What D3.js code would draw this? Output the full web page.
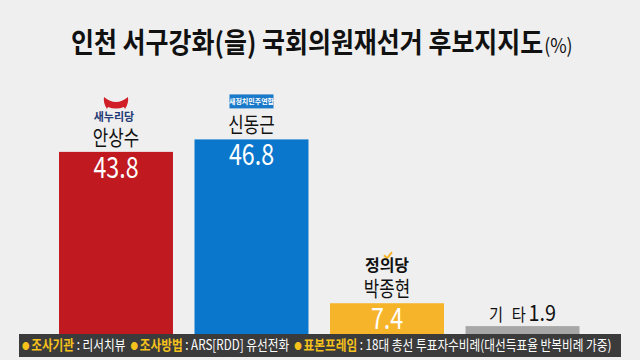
<!DOCTYPE html>
<html>
<head>
<meta charset="utf-8">
<script src="https://cdn.jsdelivr.net/npm/d3@7"></script>
<style>
  html, body { margin: 0; padding: 0; background: #efefef; }
  svg { display: block; }
  text { font-family: "Noto Sans CJK KR", "Noto Sans", sans-serif; }
</style>
</head>
<body>
<svg id="chart" width="640" height="360"></svg>
<script>
'use strict';

const candidates = ['안상수', '신동근', '박종현', '기 타'];
const parties = ['새누리당', '새정치민주연합', '정의당', ''];
const values = [43.8, 46.8, 7.4, 1.9];
const colors = ['#c11920', '#0b77cc', '#f6b42b', '#a7a7a7'];

const footerItems = [
  { label: '조사기관', text: ' : 리서치뷰 ' },
  { label: '조사방법', text: ' : ARS[RDD] 유선전화 ' },
  { label: '표본프레임', text: ' : 18대 총선 투표자수비례(대선득표율 반복비례 가중)' }
];

const svg = d3.select('#chart');
const width = 640;
const height = 360;
const footerTop = 334;
const squeeze = 0.8; // the original lettering is a condensed face

svg.append('rect')
  .attr('width', width)
  .attr('height', height)
  .attr('fill', '#efefef');

// squeeze a text group horizontally so it spans [x0, x0 + w]
function fitWidth(g, x0, w) {
  const box = g.node().getBBox();
  const k = w / box.width;
  g.attr('transform', `translate(${x0},0) scale(${k},1) translate(${-box.x},0)`);
}

// title
const titleG = svg.append('g');
const title = titleG.append('text')
  .attr('x', 0)
  .attr('y', 53)
  .attr('font-size', 28)
  .attr('font-weight', 'bold')
  .attr('fill', '#111');
title.append('tspan').text('인천 서구강화(을) 국회의원재선거 후보지지도');
title.append('tspan').attr('font-size', 20).attr('font-weight', 'normal').attr('dx', 1).text('(%)');
fitWidth(titleG, 71, 502);

const x = d3.scaleBand()
  .domain(candidates)
  .range([59, 579.5])
  .paddingInner(0.159)
  .paddingOuter(0);

const y = d3.scaleLinear()
  .domain([0, 50])
  .range([footerTop, footerTop - 207.9]);

const rows = candidates.map((c, i) => ({ name: c, party: parties[i], value: values[i], color: colors[i] }));
const mid = d => x(d.name) + x.bandwidth() / 2;

svg.selectAll('rect.bar')
  .data(rows)
  .join('rect')
  .attr('class', 'bar')
  .attr('x', d => x(d.name))
  .attr('y', d => y(d.value))
  .attr('width', x.bandwidth())
  .attr('height', d => footerTop + 4 - y(d.value))
  .attr('fill', d => d.color);

// value labels inside the three candidate bars
svg.selectAll('text.val')
  .data(rows.slice(0, 3))
  .join('text')
  .attr('class', 'val')
  .attr('transform', d => `translate(${mid(d)},${y(d.value) + 26}) scale(${squeeze},1)`)
  .attr('text-anchor', 'middle')
  .attr('font-size', 29)
  .attr('fill', '#fff')
  .text(d => d.value.toFixed(1));

// candidate names above bars
svg.selectAll('text.name')
  .data(rows.slice(0, 3))
  .join('text')
  .attr('class', 'name')
  .attr('transform', d => `translate(${mid(d)},${y(d.value) - 7}) scale(${squeeze},1)`)
  .attr('text-anchor', 'middle')
  .attr('font-size', 21)
  .attr('fill', '#111')
  .text(d => d.name);

// "기 타 1.9" label
const etc = rows[3];
const etcText = svg.append('text')
  .attr('transform', `translate(${mid(etc)},${y(etc.value) - 5}) scale(0.9,1)`)
  .attr('text-anchor', 'middle')
  .attr('fill', '#111');
etcText.append('tspan').attr('font-size', 17).attr('letter-spacing', 3).text(etc.name);
etcText.append('tspan').attr('font-size', 22).attr('dx', 0).text(etc.value.toFixed(1));

// party logos (drawn roughly)
function cx(i) { return mid(rows[i]); }

// 새누리당
const l0 = svg.append('g').attr('transform', `translate(${cx(0)},${y(values[0]) - 46})`);
l0.append('path')
  .attr('d', 'M-12,-9 Q-6,-4 0,-4 Q6,-4 12,-9 Q13,-3 9,3 L8,1 Q0,4 -8,1 L-9,3 Q-13,-3 -12,-9 Z')
  .attr('fill', '#d01f26');
l0.append('text')
  .attr('x', -2)
  .attr('y', 15)
  .attr('text-anchor', 'middle')
  .attr('font-size', 11)
  .attr('font-weight', 'bold')
  .attr('fill', '#1f3a75')
  .text(parties[0]);

// 새정치민주연합
const l1 = svg.append('g').attr('transform', `translate(${cx(1)},${y(values[1]) - 38})`);
l1.append('rect')
  .attr('x', -22)
  .attr('y', -7)
  .attr('width', 44)
  .attr('height', 14)
  .attr('fill', '#1a79c9');
l1.append('text')
  .attr('y', 2.5)
  .attr('text-anchor', 'middle')
  .attr('font-size', 7)
  .attr('font-weight', 'bold')
  .attr('fill', '#fff')
  .text(parties[1]);

// 정의당
const l2 = svg.append('g').attr('transform', `translate(${cx(2)},${y(values[2]) - 32})`);
l2.append('path')
  .attr('d', 'M-3,-16 L0,-13 L5,-19')
  .attr('fill', 'none')
  .attr('stroke', '#f6b42b')
  .attr('stroke-width', 2);
l2.append('text')
  .attr('y', 0)
  .attr('text-anchor', 'middle')
  .attr('font-size', 16)
  .attr('font-weight', 'bold')
  .attr('fill', '#111')
  .text(parties[2]);

// footer band
svg.append('rect')
  .attr('x', 19)
  .attr('y', footerTop)
  .attr('width', 602)
  .attr('height', 23)
  .attr('fill', '#3b3b3b');

const footG = svg.append('g');
const foot = footG.append('text')
  .attr('x', 0)
  .attr('y', 350.5)
  .attr('font-size', 14)
  .attr('fill', '#fff');
footerItems.forEach((item, i) => {
  foot.append('tspan').attr('fill', '#f6c21c').attr('font-size', 9)
    .attr('dx', i ? 3 : 0).attr('dy', -1).text('●');
  foot.append('tspan').attr('fill', '#f6c21c').attr('font-weight', 'bold')
    .attr('dx', 2).attr('dy', 1).text(item.label);
  foot.append('tspan').attr('fill', '#fff').text(item.text);
});
fitWidth(footG, 22, 590);
</script>
</body>
</html>
